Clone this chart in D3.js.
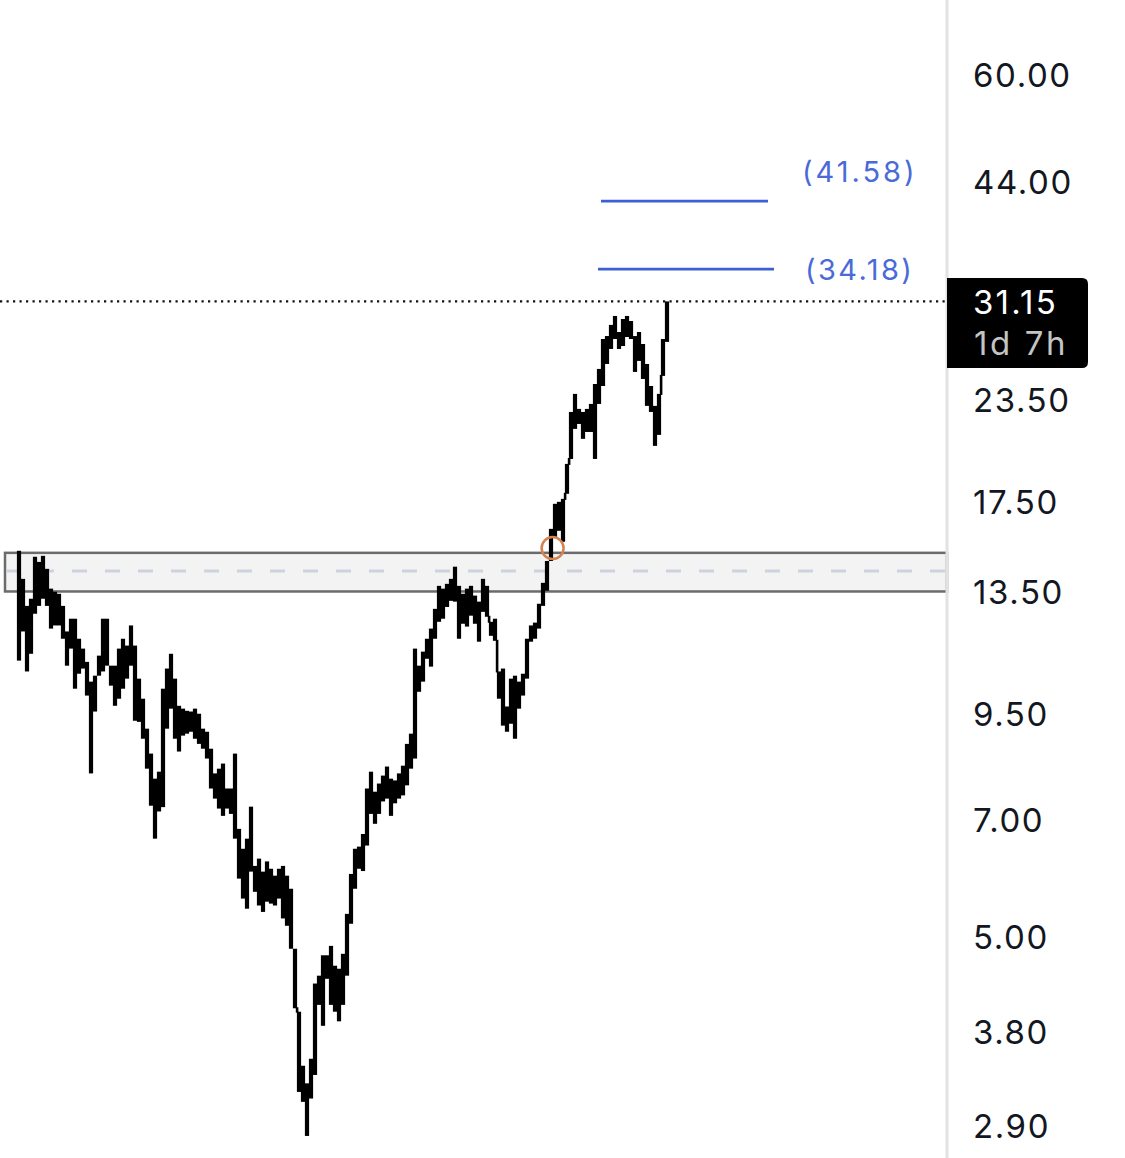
<!DOCTYPE html>
<html>
<head>
<meta charset="utf-8">
<script src="https://cdn.jsdelivr.net/npm/d3@7"></script>
<style>
  html, body { margin: 0; padding: 0; background: #ffffff; }
  svg { display: block; }
</style>
</head>
<body>
<div id="chart"></div>
<script>
// ---- DATA ----
const barHigh = [
  15.18, 14.00, 12.95, 13.22, 14.92, 14.70, 14.96, 14.41, 13.61, 13.49,
  13.41, 12.95, 12.03, 12.48, 12.48, 11.78, 11.45, 11.02, 10.41, 10.59,
  11.22, 12.48, 12.48, 10.90, 10.90, 11.45, 11.78, 11.55, 12.24, 11.55,
  10.50, 9.91, 9.09, 8.46, 7.87, 8.03, 10.20, 10.81, 11.28, 10.50,
  9.71, 9.63, 9.57, 9.55, 9.63, 9.49, 9.09, 9.01, 8.58, 7.99,
  8.10, 8.22, 7.65, 7.65, 8.46, 6.81, 6.43, 6.62, 7.26, 6.12,
  6.25, 6.02, 6.20, 6.07, 5.95, 6.07, 6.12, 5.95, 5.73, 4.82,
  4.02, 3.44, 3.27, 3.51, 4.36, 4.46, 4.73, 4.73, 4.86, 4.59,
  4.55, 4.75, 5.33, 5.98, 6.43, 6.47, 6.71, 7.65, 8.03, 7.58,
  7.76, 7.94, 8.15, 7.87, 7.83, 7.99, 8.17, 8.70, 8.96, 11.45,
  10.90, 11.35, 11.78, 12.13, 12.84, 13.72, 13.61, 13.80, 14.00, 14.50,
  13.72, 13.41, 13.61, 13.72, 13.34, 13.11, 14.00, 13.72, 12.37, 12.48,
  10.72, 10.81, 9.69, 10.50, 10.59, 10.41, 10.65, 11.78, 12.24, 12.34,
  13.03, 13.84, 14.74, 16.17, 17.38, 17.48, 17.63, 19.50, 22.65, 23.86,
  22.85, 22.65, 22.85, 23.18, 24.55, 25.64, 27.95, 28.19, 29.11, 29.87,
  28.52, 29.61, 29.87, 29.44, 28.19, 28.52, 27.55, 26.01, 24.41, 23.05,
  23.86, 27.95, 31.15
];
const barLow = [
  11.06, 12.03, 10.72, 11.28, 12.66, 12.95, 13.22, 12.95, 12.13, 12.24,
  12.24, 11.78, 10.90, 11.45, 10.20, 10.65, 10.81, 10.00, 7.99, 9.55,
  10.59, 10.72, 10.90, 10.29, 9.71, 9.91, 10.20, 10.50, 10.90, 9.30,
  9.27, 8.83, 8.10, 7.28, 6.62, 7.16, 7.25, 9.09, 9.63, 8.83,
  8.51, 8.91, 8.96, 9.01, 8.83, 8.70, 8.58, 8.34, 7.65, 7.43,
  7.22, 7.07, 7.22, 7.11, 6.62, 5.90, 5.57, 5.41, 6.02, 5.68,
  5.46, 5.36, 5.52, 5.49, 5.46, 5.57, 5.26, 5.15, 4.82, 4.06,
  3.19, 3.10, 2.81, 3.13, 3.35, 4.10, 3.86, 4.42, 4.10, 4.02,
  3.91, 4.10, 4.46, 5.18, 5.73, 6.07, 6.03, 6.49, 7.11, 6.91,
  7.11, 7.37, 7.43, 7.07, 7.33, 7.43, 7.50, 7.72, 8.10, 8.34,
  10.11, 10.41, 11.12, 10.87, 11.78, 12.37, 12.48, 12.91, 13.14, 13.11,
  11.78, 12.30, 12.20, 12.59, 12.30, 11.68, 12.73, 12.55, 11.88, 11.71,
  9.91, 9.17, 9.01, 9.22, 8.83, 9.63, 10.00, 10.50, 11.68, 11.78,
  12.13, 12.95, 13.53, 14.74, 15.80, 16.08, 15.58, 17.89, 19.78, 21.57,
  21.88, 20.96, 21.38, 21.38, 19.78, 23.18, 24.41, 26.01, 27.16, 27.95,
  27.16, 27.39, 28.11, 27.95, 25.42, 26.24, 24.91, 23.05, 22.65, 20.54,
  21.20, 25.13, 27.72
];
const axisTicks = [60, 44, 23.5, 17.5, 13.5, 9.5, 7, 5, 3.8, 2.9];
const lastPrice = 31.15;
const lastPriceLabel = "31.15";
const countdownLabel = "1d 7h";
const zoneLow = 13.50;
const zoneMid = 14.32;
const zoneHigh = 15.09;
const targetValues = [41.58, 34.18];
const targetLabels = ["(41.58)", "(34.18)"];
const targetStart = [145.5, 144.75];
const targetEnd = [187.25, 188.75];
const markerIndex = 133.4;
const markerValue = 15.3;

// ---- LAYOUT ----
const W = 1125, H = 1158;
const axisX = 947;

const svg = d3.select("#chart").append("svg")
  .attr("width", W).attr("height", H)
  .style("font-family", "Inter, 'Noto Sans', sans-serif");

const x = d3.scaleLinear().domain([0, barHigh.length - 1]).range([19, 667]);
const y = d3.scaleLog().domain([2.9, 60]).range([1125, 74]);

// zone
svg.append("rect")
  .attr("x", 5).attr("y", y(zoneHigh))
  .attr("width", axisX - 5).attr("height", y(zoneLow) - y(zoneHigh))
  .attr("fill", "#f3f3f3")
  .attr("stroke", "#6b6b6b").attr("stroke-width", 2.5);
svg.append("line")
  .attr("x1", 6).attr("x2", axisX)
  .attr("y1", y(zoneMid)).attr("y2", y(zoneMid))
  .attr("stroke", "#cdd3de").attr("stroke-width", 3)
  .attr("stroke-dasharray", "15,18");

// last price dotted line
svg.append("line")
  .attr("x1", 0).attr("x2", axisX)
  .attr("y1", y(lastPrice)).attr("y2", y(lastPrice))
  .attr("stroke", "#111").attr("stroke-width", 2.2)
  .attr("stroke-dasharray", "2.2,4.3");

// bars
const bars = barHigh.map((h, i) => ({ i, h, l: barLow[i] }));
const gBars = svg.append("g");
gBars.selectAll("rect.bar").data(bars).join("rect")
  .attr("class", "bar")
  .attr("x", d => x(d.i) - 2.1)
  .attr("width", 4.2)
  .attr("y", d => y(d.h))
  .attr("height", d => Math.max(2, y(d.l) - y(d.h)))
  .attr("fill", "#000");
// connectors where consecutive bar ranges do not overlap
const gaps = bars.slice(1).map((d, k) => {
  const p = bars[k];
  const top = Math.min(d.h, p.h);      // lower of the two highs
  const bottom = Math.max(d.l, p.l);   // higher of the two lows
  return { i: d.i, top: bottom, bottom: top, gap: bottom > top };
}).filter(g => g.gap);
gBars.selectAll("rect.gap").data(gaps).join("rect")
  .attr("class", "gap")
  .attr("x", d => x(d.i) - 3.2)
  .attr("width", 2.6)
  .attr("y", d => y(d.top) - 1)
  .attr("height", d => y(d.bottom) - y(d.top) + 2)
  .attr("fill", "#000");

// target lines
targetValues.forEach((v, k) => {
  svg.append("line")
    .attr("x1", x(targetStart[k])).attr("x2", x(targetEnd[k]))
    .attr("y1", y(v)).attr("y2", y(v))
    .attr("stroke", "#3d5fd1").attr("stroke-width", 2.8);
});
svg.append("text").attr("x", 802).attr("y", y(targetValues[0]) - 19)
  .attr("font-size", 29).attr("letter-spacing", 3)
  .attr("fill", "#4a6ad8").text(targetLabels[0]);
svg.append("text").attr("x", 805).attr("y", y(targetValues[1]) + 11)
  .attr("font-size", 29).attr("letter-spacing", 2.4)
  .attr("fill", "#4a6ad8").text(targetLabels[1]);

// marker
svg.append("circle")
  .attr("cx", x(markerIndex)).attr("cy", y(markerValue)).attr("r", 11)
  .attr("fill", "none").attr("stroke", "#d4834f").attr("stroke-width", 2.5);

// right axis line
svg.append("line")
  .attr("x1", axisX).attr("x2", axisX).attr("y1", 0).attr("y2", H)
  .attr("stroke", "#e2e2e5").attr("stroke-width", 3);

// axis labels
const axis = d3.axisRight(y).tickValues(axisTicks)
  .tickFormat(d3.format(".2f")).tickSize(0).tickPadding(26);
const gAxis = svg.append("g").attr("transform", `translate(${axisX},0)`).call(axis);
gAxis.select(".domain").remove();
gAxis.selectAll("text")
  .attr("font-size", 33).attr("letter-spacing", 1.6)
  .attr("fill", "#131722").attr("dy", "0.37em")
  .style("font-family", "Inter, 'Noto Sans', sans-serif");

// last price box
const by = 278, bh = 90, bx = 947, bw = 141;
svg.append("path")
  .attr("d", `M${bx},${by} H${bx + bw - 6} Q${bx + bw},${by} ${bx + bw},${by + 6} V${by + bh - 6} Q${bx + bw},${by + bh} ${bx + bw - 6},${by + bh} H${bx} Z`)
  .attr("fill", "#000");
svg.append("text").attr("x", 973).attr("y", y(lastPrice) + 12.5)
  .attr("font-size", 33).attr("letter-spacing", 2.2)
  .attr("fill", "#fff").text(lastPriceLabel);
svg.append("text").attr("x", 974).attr("y", 355)
  .attr("font-size", 33).attr("letter-spacing", 2.6)
  .attr("fill", "#c4c4c4").text(countdownLabel);
</script>
</body>
</html>
